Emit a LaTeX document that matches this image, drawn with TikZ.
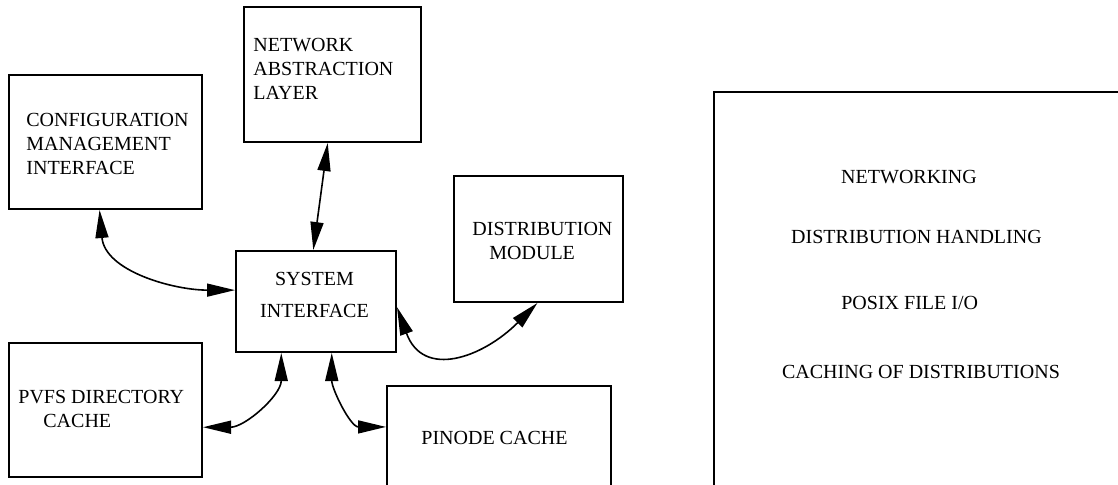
\documentclass[tikz,border=0pt]{standalone}
\usepackage{fontspec}
\setmainfont{Liberation Serif}
\usetikzlibrary{arrows.meta}
\tikzset{blk/.style={draw, line width=1pt, inner sep=0pt},
  txt/.style={inner sep=0pt, font=\rmfamily},
  link/.style={{Triangle[length=14pt,width=6.5pt]}-{Triangle[length=14pt,width=6.5pt]}, line width=0.8pt}}

\begin{document}
\begin{tikzpicture}[x=0.5pt, y=0.5pt]
  % page frame (1 unit = 1 px of the reference)
  \useasboundingbox (0,0) rectangle (1118,-484);
  \clip (0,0) rectangle (1118,-484);
  \node[blk, minimum width=96.5pt, minimum height=67pt] (cfg) at (105.5,-142) {};
  \node[blk, minimum width=88.5pt, minimum height=67.5pt] (nal) at (332.5,-74.5) {};
  \node[blk, minimum width=80pt, minimum height=50.5pt] (sys) at (316,-301.5) {};
  \node[blk, minimum width=84.5pt, minimum height=63pt] (dist) at (538.5,-239) {};
  \node[blk, minimum width=96.5pt, minimum height=67pt] (pvfs) at (105.5,-410) {};
  \node[blk, minimum width=112pt, minimum height=67pt] (pin) at (499,-453) {};
  \node[blk, minimum width=208pt, minimum height=204pt] (feat) at (922,-296) {};
  % box texts
  \node[txt, anchor=west, align=left] (cfgt) at (26,-143.5) {CONFIGURATION\\MANAGEMENT\\INTERFACE};
  \node[txt, anchor=west, align=left] (nalt) at (253,-68.5) {NETWORK\\ABSTRACTION\\LAYER};
  \node[txt, align=center] (syst) at (314.5,-295) {SYSTEM\\[4pt]INTERFACE};
  \node[txt, anchor=west, align=left] (distt) at (472,-241) {DISTRIBUTION\\\hspace*{8.5pt}MODULE};
  \node[txt, anchor=west, align=left] (pvfst) at (18,-409) {PVFS DIRECTORY\\\hspace*{12.5pt}CACHE};
  \node[txt, anchor=west] (pint) at (421,-438) {PINODE CACHE};
  \node[txt] (f1) at (909,-177) {NETWORKING};
  \node[txt] (f2) at (916.5,-237) {DISTRIBUTION HANDLING};
  \node[txt] (f3) at (909.7,-303) {POSIX FILE I/O};
  \node[txt] (f4) at (921,-372) {CACHING OF DISTRIBUTIONS};
  % links to the system interface
  \draw[link] (cfg.-95) to[out=-85, in=180] (sys.172);
  \draw[link] (nal.-94) -- (sys.93);
  \draw[link] (sys.-4) to[out=-70, in=-135, looseness=1.4] (dist.-91);
  \draw[link] (sys.-124) to[out=-90, in=0] (pvfs.-10);
  \draw[link] (sys.-73) to[out=-90, in=180] (pin.167);
\end{tikzpicture}
\end{document}
